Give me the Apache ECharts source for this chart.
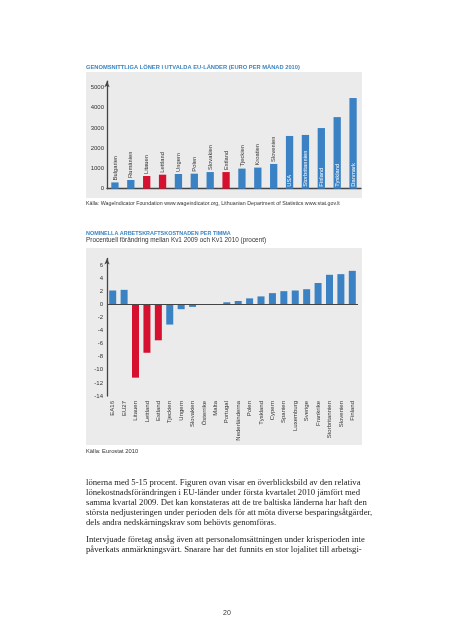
<!DOCTYPE html>
<html>
<head>
<meta charset="utf-8">
<script src="https://cdn.jsdelivr.net/npm/echarts@6/dist/echarts.min.js"></script>
<style>
html,body{margin:0;padding:0;background:#fff;}
#c{width:453px;height:640px;}
</style>
</head>
<body>
<div id="c"></div>
<script>
// ---- Chart 1 data: average wages (EUR per month 2010)
const wageCountries = ['Bulgarien','Rumänien','Litauen','Lettland','Ungern','Polen','Slovakien','Estland','Tjeckien','Kroatien','Slovenien','USA','Storbritannien','Finland','Tyskland','Danmark'];
const wageValues = [310, 430, 625, 690, 725, 740, 820, 820, 990, 1040, 1220, 2600, 2650, 2990, 3530, 4470];
const wageTicks = [0, 1000, 2000, 3000, 4000, 5000];

// ---- Chart 2 data: nominal labour cost per hour, % change Q1 2009 - Q1 2010
const costCountries = ['EA16','EU27','Litauen','Lettland','Estland','Tjeckien','Ungern','Slovakien','Österrike','Malta','Portugal','Nederländerna','Polen','Tyskland','Cypern','Spanien','Luxemburg','Sverige','Frankrike','Storbritannien','Slovenien','Finland'];
const costValues = [2.1, 2.2, -11.2, -7.4, -5.5, -3.1, -0.75, -0.4, 0, 0, 0.3, 0.5, 0.9, 1.2, 1.7, 2.0, 2.1, 2.3, 3.25, 4.5, 4.6, 5.1];
const costTicks = [-14, -12, -10, -8, -6, -4, -2, 0, 2, 4, 6];

const baltic = ['Litauen','Lettland','Estland'];

const BLUE = '#3a82c4';
const RED = '#d5112f';
const TITLE = '#3b86c4';
const SANS = '"Liberation Sans", Arial, sans-serif';
const SERIF = '"Liberation Serif", "Times New Roman", serif';

const labelAbove = {show:true, position:'top', rotate:90, align:'left', verticalAlign:'middle', distance:2, color:'#333', fontSize:5.8, fontFamily:SANS};
const labelInside = {show:true, position:'insideBottom', rotate:90, align:'left', verticalAlign:'middle', distance:2, color:'#fff', fontSize:5.8, fontFamily:SANS};

const wageData = wageValues.map((v,i)=>({
  value:v,
  itemStyle:{color: baltic.includes(wageCountries[i]) ? RED : BLUE},
  label:Object.assign({formatter: wageCountries[i]}, v > 2000 ? labelInside : labelAbove)
}));
const costData = costValues.map((v,i)=>({
  value:v,
  itemStyle:{color: baltic.includes(costCountries[i]) ? RED : BLUE}
}));

const paragraph = [
  'lönerna med 5-15 procent. Figuren ovan visar en överblicksbild av den relativa',
  'lönekostnadsförändringen i EU-länder under första kvartalet 2010 jämfört med',
  'samma kvartal 2009. Det kan konstateras att de tre baltiska länderna har haft den',
  'största nedjusteringen under perioden dels för att möta diverse besparingsåtgärder,',
  'dels andra nedskärningskrav som behövts genomföras.'
];
const paragraph2 = [
  'Intervjuade företag ansåg även att personalomsättningen under krisperioden inte',
  'påverkats anmärkningsvärt. Snarare har det funnits en stor lojalitet till arbetsgi-'
];

const graphic = [
  {type:'rect', z:-10, shape:{x:86,y:72,width:276,height:126}, style:{fill:'#ebebeb'}},
  {type:'rect', z:-10, shape:{x:86,y:248,width:276,height:197}, style:{fill:'#ebebeb'}},
  {type:'text', left:86, top:64, style:{text:'GENOMSNITTLIGA LÖNER I UTVALDA EU-LÄNDER (EURO PER MÅNAD 2010)', fill:TITLE, font:'bold 5.75px '+SANS}},
  {type:'text', left:86, top:201.5, style:{text:'Källa: WageIndicator Foundation www.wageindicator.org, Lithuanian Department of Statistics www.stat.gov.lt', fill:'#333', font:'5.3px '+SANS}},
  {type:'text', left:86, top:231, style:{text:'NOMINELLA ARBETSKRAFTSKOSTNADEN PER TIMMA', fill:TITLE, font:'bold 5.45px '+SANS}},
  {type:'text', left:86, top:237.5, style:{text:'Procentuell förändring mellan Kv1 2009 och Kv1 2010 (procent)', fill:'#333', font:'6.4px '+SANS}},
  {type:'text', left:86, top:448.5, style:{text:'Källa: Eurostat 2010', fill:'#333', font:'5.8px '+SANS}},
  {type:'text', left:223, top:609.5, style:{text:'20', fill:'#333', font:'7px '+SANS}}
];
paragraph.forEach((t,i)=>graphic.push({type:'text', left:86, top:478.5 + i*9.9, style:{text:t, fill:'#222', font:'8.7px '+SERIF}}));
paragraph2.forEach((t,i)=>graphic.push({type:'text', left:86, top:535.5 + i*9.9, style:{text:t, fill:'#222', font:'8.7px '+SERIF}}));

const axisLineStyle = {color:'#444', width:1.3};

const option = {
  animation:false,
  backgroundColor:'#fff',
  graphic: graphic,
  grid:[
    {left:107, top:81.2, width:254, height:107.5},
    {left:107, top:258.4, width:251, height:137.6}
  ],
  xAxis:[
    {gridIndex:0, type:'category', data:wageCountries,
     axisLine:{show:true, lineStyle:axisLineStyle}, axisTick:{show:false}, axisLabel:{show:false}},
    {gridIndex:1, type:'category', data:costCountries, position:'bottom',
     axisLine:{show:false, onZero:false}, axisTick:{show:false},
     axisLabel:{rotate:90, interval:0, fontSize:6, color:'#333', fontFamily:SANS, margin:5}}
  ],
  yAxis:[
    {gridIndex:0, type:'value', min:wageTicks[0], max:5300, interval:1000,
     axisLine:{show:true, lineStyle:axisLineStyle, symbol:['none','arrow'], symbolSize:[4,6]},
     axisTick:{show:false}, splitLine:{show:false},
     axisLabel:{showMaxLabel:false, fontSize:6, color:'#333', fontFamily:SANS, margin:3, formatter:(v)=>String(v)}},
    {gridIndex:1, type:'value', min:costTicks[0], max:7, interval:2,
     axisLine:{show:true, onZero:false, lineStyle:axisLineStyle, symbol:['none','arrow'], symbolSize:[4,6]},
     axisTick:{show:false}, splitLine:{show:false},
     axisLabel:{showMaxLabel:false, fontSize:6, color:'#333', fontFamily:SANS, margin:4, formatter:(v)=>String(v)}}
  ],
  series:[
    {type:'bar', xAxisIndex:0, yAxisIndex:0, data:wageData, barWidth:7.3},
    {type:'bar', xAxisIndex:1, yAxisIndex:1, data:costData, barWidth:7,
     markLine:{silent:true, symbol:['none','none'], label:{show:false},
       lineStyle:{color:'#444', width:1.2, type:'solid'}, data:[{yAxis:0}]}}
  ]
};

const chart = echarts.init(document.getElementById('c'), null, {renderer:'canvas'});
chart.setOption(option);
</script>
</body>
</html>
